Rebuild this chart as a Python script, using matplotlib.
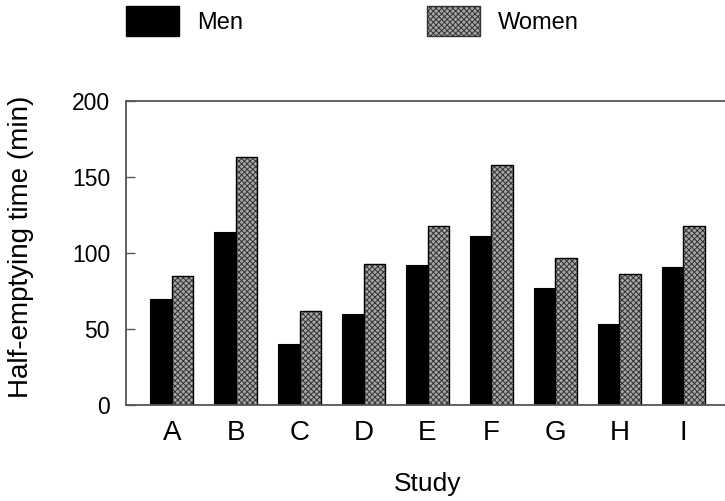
import matplotlib
matplotlib.use("Agg")
import matplotlib.pyplot as plt
import numpy as np
from matplotlib.patches import Patch

plt.rcParams['font.family'] = ['Liberation Sans', 'DejaVu Sans']
plt.rcParams['hatch.linewidth'] = 0.7

studies = ['A', 'B', 'C', 'D', 'E', 'F', 'G', 'H', 'I']
men = [70, 114, 40, 60, 92, 111, 77, 53, 91]
women = [85, 163, 62, 93, 118, 158, 97, 86, 118]
yticks = [0, 50, 100, 150, 200]

W, H = 725, 501
fig = plt.figure(figsize=(W / 100, H / 100), dpi=100)
left, right, top, bottom = 126, 729, 101, 405
ax = fig.add_axes([left / W, 1 - bottom / H, (right - left) / W, (bottom - top) / H])

x = np.arange(len(studies))
bw = 0.34
women_face = '#a6a6a6'
women_hatch = 'xxxxxx'
ax.bar(x - bw / 2, men, width=bw, color='black', edgecolor='black', linewidth=0.8)
ax.bar(x + bw / 2, women, width=bw, color=women_face, edgecolor='#333333',
       hatch=women_hatch, linewidth=0)
ax.bar(x + bw / 2, women, width=bw, fill=False, edgecolor='black', linewidth=1.0)

ax.set_xlim(-0.715, len(studies) - 1 + 0.715)
ax.set_ylim(0, 200)
ax.set_yticks(yticks)
ax.set_xticks(x)
ax.set_xticklabels(studies, fontsize=20)
ax.tick_params(axis='y', direction='in', length=6.5, width=1, color='#555555',
               labelsize=16.5, pad=11.5)
ax.tick_params(axis='x', length=0, pad=11)

for s in ['left', 'top', 'bottom']:
    ax.spines[s].set_color('#555555')
    ax.spines[s].set_linewidth(1.3)
ax.spines['right'].set_visible(False)

ax.set_ylabel('Half-emptying time (min)', fontsize=20)
ax.yaxis.set_label_coords(-0.153, 0.52)
ax.set_xlabel('Study', fontsize=19)
ax.xaxis.set_label_coords(0.5, -0.22)

handles = [Patch(facecolor='black', edgecolor='black'),
           Patch(facecolor=women_face, edgecolor='#333333', hatch=women_hatch)]
fig.legend(handles, ['Men', 'Women'], loc='upper left', ncol=2,
           bbox_to_anchor=(126 / W, 1 - 6 / H), frameon=False, fontsize=17,
           borderpad=0, borderaxespad=0, handlelength=2.25, handleheight=1.6,
           handletextpad=0.75, columnspacing=7.8)

fig.savefig('out.png', dpi=100)
